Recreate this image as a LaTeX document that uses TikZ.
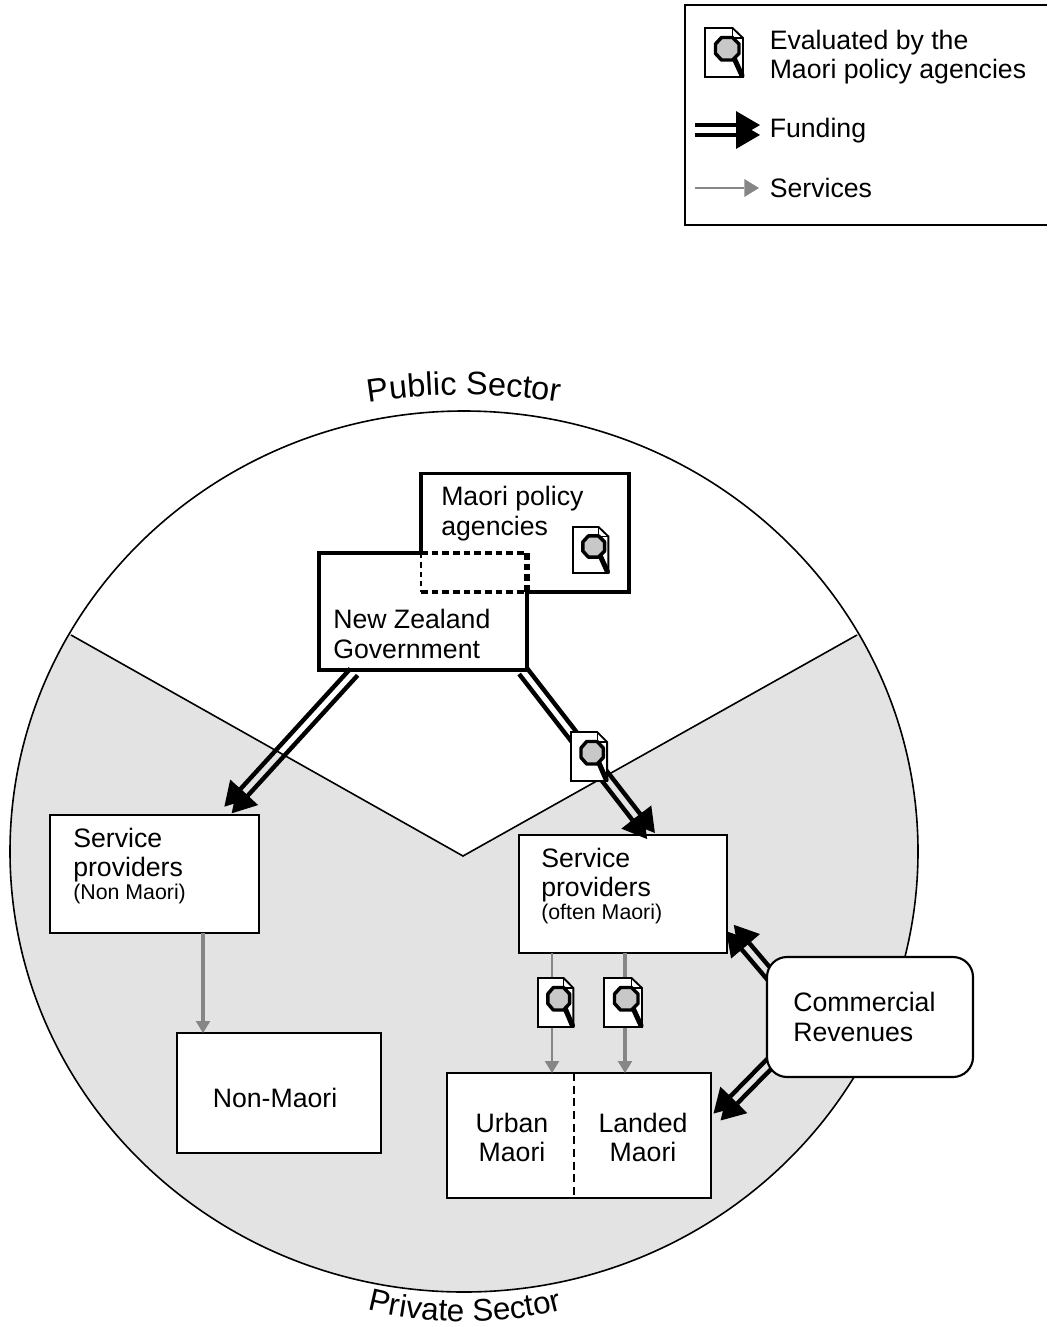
\documentclass[tikz,border=0pt]{standalone}
\usepackage{fontspec}
\setmainfont{Liberation Sans}
\usetikzlibrary{arrows.meta,calc,decorations.text}
\definecolor{sectorgray}{HTML}{E3E3E3}
\definecolor{svcgray}{HTML}{868686}
\definecolor{lensgray}{HTML}{C8C8C8}
\newcommand{\mainsize}{\fontsize{20}{22}\selectfont}
\newcommand{\smallsize}{\fontsize{16}{18}\selectfont}
\newcommand{\curvesize}{\fontsize{23.5}{26}\selectfont}
\newcommand{\curvesizeb}{\fontsize{24.4}{26}\selectfont}
\newcommand{\fundarrow}[2]{%
  \draw[fundline] ($(#1)!3.7pt!90:(#2)$) -- ($(#2)!3.7pt!-90:(#1)$);
  \draw[fundline] ($(#1)!3.7pt!-90:(#2)$) -- ($(#2)!3.7pt!90:(#1)$);}
\tikzset{
  x=0.75pt,y=-0.75pt,
  box/.style={draw=black,fill=white,line width=1.6pt,minimum width=#1,inner sep=0pt,outer sep=0pt},
  label/.style={font=\mainsize,align=left,anchor=west,inner sep=0pt},
  fundline/.style={line width=3.3pt,draw=black,-{Triangle[length=18pt,width=21pt,line width=0pt]}},
  svcline/.style={draw=svcgray,-{Triangle[length=9pt,width=11pt,fill=svcgray,line width=0pt]}},
  docicon/.pic={
    \draw[black,fill=white,line width=1.4pt] (0,0) -- (27.5,0) -- (38,10) -- (38,49) -- (0,49) -- cycle;
    \draw[black,line width=0.8pt] (27.5,0) -- (27.5,10) -- (38,10);
    \draw[black,line width=3.8pt,line cap=round] (29,30) -- (37,47.5);
    \draw[black,fill=lensgray,line width=2.6pt,line join=round]
      (16.5,9.5) -- (27.5,9.5) -- (34,16) -- (34,25.5) -- (27.5,32) -- (16.5,32) -- (10.5,25.5) -- (10.5,16) -- cycle;
  }
}
\begin{document}
\begin{tikzpicture}
\useasboundingbox (0,0) rectangle (1047,1327);
% sectors
\path[fill=sectorgray] (464,851.5) ellipse [x radius=454, y radius=440.5];
\begin{scope}
  \clip (464,851.5) ellipse [x radius=454, y radius=440.5];
  \fill[white] (463,856) -- (71,635) -- (71,380) -- (857,380) -- (857,635) -- cycle;
\end{scope}
\draw[black,line width=1.2pt] (464,851.5) ellipse [x radius=454, y radius=440.5];
\draw[black,line width=1.2pt] (71,635) -- (463,856) -- (857,635);
% curved labels
\path[decorate,decoration={text along path,text align=center,
  text={|\curvesizeb|Public Sector}}]
  (348,406) .. controls (420,391) and (510,391) .. (580,406);
\path[decorate,decoration={text along path,text align=center,
  text={|\curvesize|Private Sector}}]
  (352,1305) .. controls (420,1327) and (510,1327) .. (578,1305);
% legend
\draw[black,line width=1.2pt] (1047,5) -- (685,5) -- (685,225) -- (1047,225);
\pic at (705,28) {docicon};
\node[label] (legeval) at (769.5,57) {Evaluated by the\\Maori policy agencies};
\coordinate (lf1) at (695,130);
\coordinate (lf2) at (760,130);
\fundarrow{lf1}{lf2}
\node[label] (legfund) at (769.5,131) {Funding};
\coordinate (ls1) at (695,188);
\coordinate (ls2) at (759,188);
\draw[draw=svcgray,line width=1.2pt,-{Triangle[length=11pt,width=13.5pt,fill=svcgray,line width=0pt]}] (ls1) -- (ls2);
\node[label] (legserv) at (769.5,188) {Services};
% policy agencies and government
\node[box=156pt,minimum height=88.9pt,line width=2.8pt] (policy) at (525,532.75) {};
\node[box=156pt,minimum height=87.75pt,draw=none] (gov) at (423,611.5) {};
\draw[black,line width=2.8pt] (policy.north west |- gov.north) -- (gov.north west) -- (gov.south west) -- (gov.south east) -- (gov.east |- policy.south);
\coordinate (ov1) at (421,553);
\coordinate (ov2) at (527,553);
\coordinate (ov3) at (527,592);
\coordinate (ov4) at (421,592);
\draw[black,line width=2.8pt,dash pattern=on 5pt off 3pt] (ov1) -- (ov2);
\draw[black,line width=2.8pt,dash pattern=on 5pt off 3pt] (ov4) -- (ov3);
\draw[black,line width=1.3pt,dash pattern=on 4pt off 3pt] (ov1) -- (ov4);
\draw[black,line width=3.8pt,dash pattern=on 5pt off 3pt] (ov2) -- (ov3);
\node[label] (policytxt) at (441,513.5) {Maori policy\\agencies};
\node[label] (govtxt) at (333,634) {New Zealand\\Government};
\pic[xscale=0.93,yscale=0.94] at (573,527) {docicon};
% service boxes
\node[box=156.75pt,minimum height=88.5pt] (spl) at (154.5,874) {};
\node[box=156pt,minimum height=88.5pt] (spr) at (623,894) {};
\node[box=153pt,minimum height=90pt] (nonm) at (279,1093) {};
\node[box=198pt,minimum height=93.75pt] (maori) at (579,1135.5) {};
\draw[black,line width=1.2pt,dash pattern=on 6pt off 3.5pt] (574,1073) -- (574,1198);
\node[label] (spltxt) at (73,866) {Service\\providers\\[-5pt]{\smallsize (Non Maori)}};
\node[label] (sprtxt) at (541,886) {Service\\providers\\[-5pt]{\smallsize (often Maori)}};
\node[font=\mainsize,inner sep=0pt] (nonmtxt) at (275,1098) {Non-Maori};
\node[font=\mainsize,align=center,inner sep=0pt] (urbantxt) at (512,1137.5) {Urban\\Maori};
\node[font=\mainsize,align=center,inner sep=0pt] (landedtxt) at (643,1137.5) {Landed\\Maori};
% service arrows
\coordinate (s1) at ($(spl.south west)+(153,0)$);
\draw[svcline,line width=2.4pt] (s1) -- (s1 |- nonm.north);
\coordinate (s2) at (552,953);
\draw[svcline,line width=1.5pt] (s2) -- (s2 |- maori.north);
\coordinate (s3) at (625,953);
\draw[svcline,line width=2.7pt] (s3) -- (s3 |- maori.north);
% funding arrows
\coordinate (g1) at ($(gov.south west)+(35,2)$);
\coordinate (g2) at (228,810);
\fundarrow{g1}{g2}
\coordinate (g3) at ($(gov.south east)+(-4,1)$);
\coordinate (g4) at (651,836);
\fundarrow{g3}{g4}
\coordinate (c1) at (775,981);
\coordinate (c2) at (730,928);
\fundarrow{c1}{c2}
\coordinate (c3) at (776,1057);
\coordinate (c4) at (717,1117);
\fundarrow{c3}{c4}
% commercial revenues
\node[box=154.5pt,minimum height=90pt,rounded corners=15pt] (comm) at (870,1017) {};
\node[label] (commtxt) at (793,1017) {Commercial\\Revenues};
% evaluation icons
\pic[xscale=0.95] at (571,732) {docicon};
\pic[xscale=0.93] at (538,978) {docicon};
\pic at (604,978) {docicon};
\end{tikzpicture}
\end{document}
